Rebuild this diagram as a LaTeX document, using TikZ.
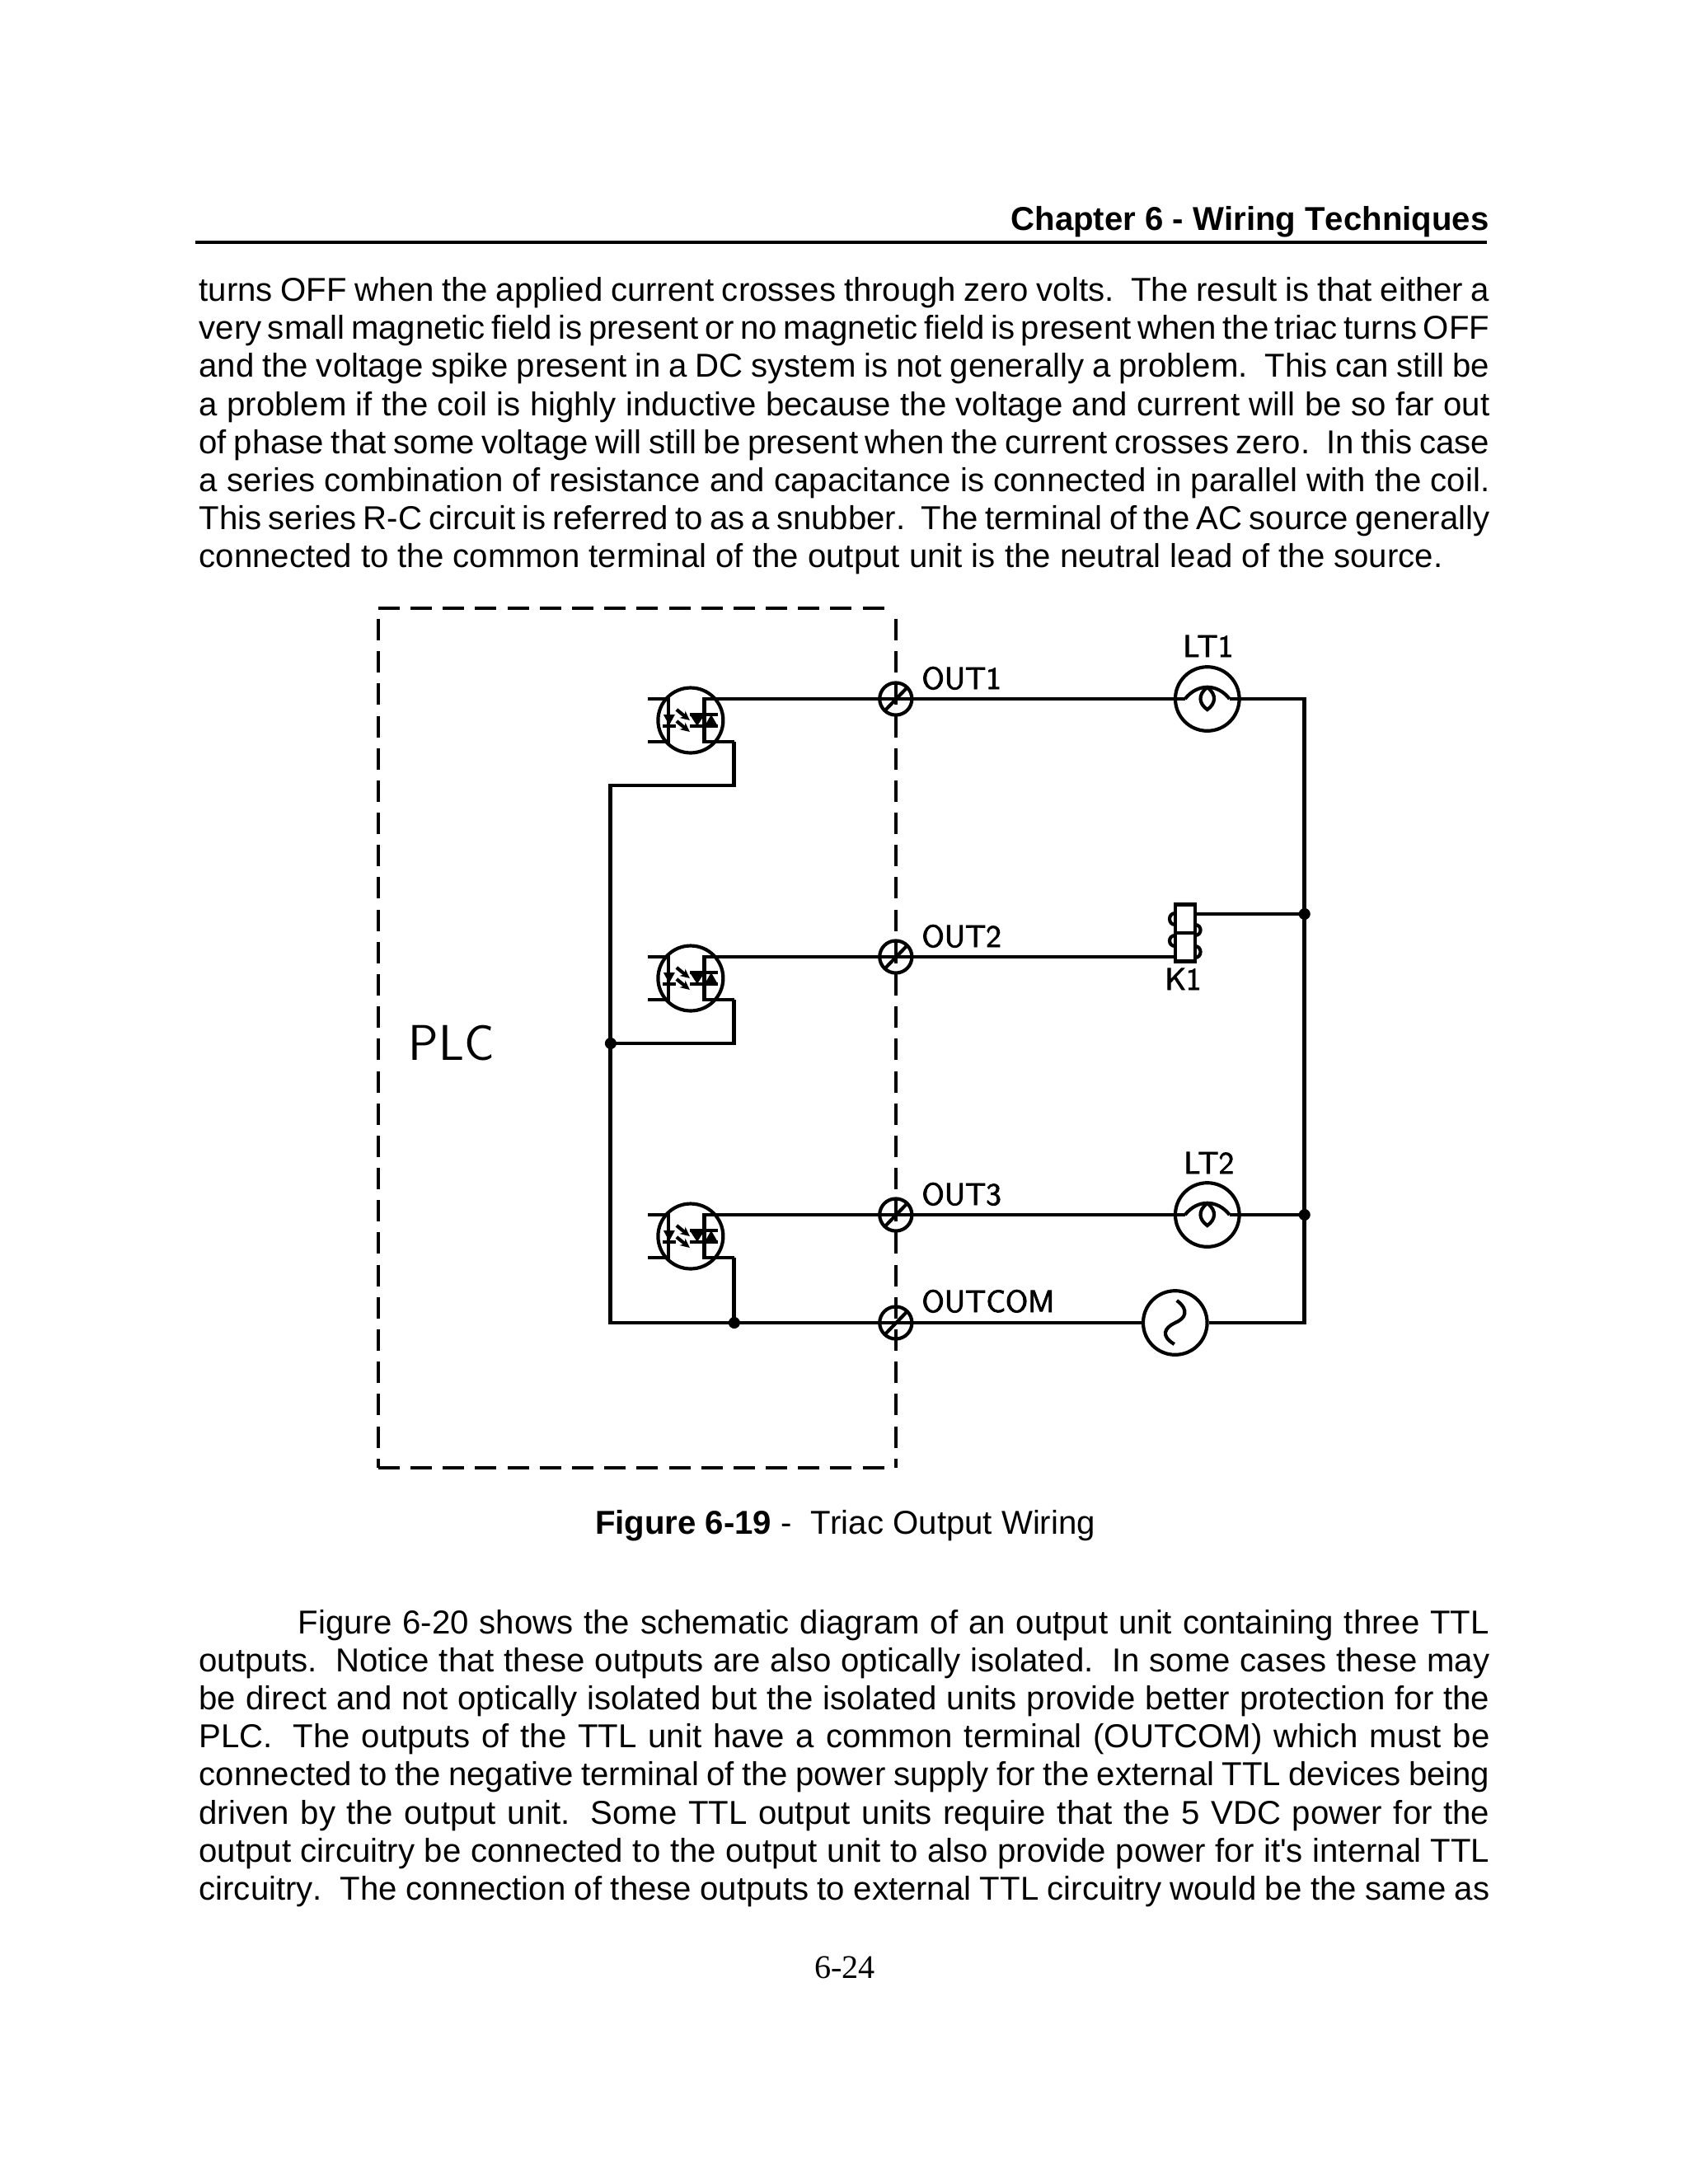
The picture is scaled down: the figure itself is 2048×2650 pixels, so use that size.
\documentclass[tikz,border=0pt]{standalone}
\usepackage{fontspec}
\setmainfont{Liberation Sans}[Ligatures={TeXOff,NoCommon},Kerning=Off]
\newfontfamily\pagefont{Liberation Serif}
\usetikzlibrary{arrows.meta,calc}
\newcommand{\dbl}{\hskip.556em plus 1em minus .2em\relax}
\newcommand{\fullline}[2][468pt]{\makebox[#1][s]{\spaceskip=.278em plus 1em minus .2em\relax #2}}
\newcommand{\cadlabel}[1]{\special{pdf:code q 2 Tr 0.25 w}#1\special{pdf:code Q}}
\frenchspacing
\tikzset{
	txt/.style={anchor=base west,inner sep=0pt,font=\fontsize{12}{14}\selectfont},
	cadtxt/.style={anchor=base west,inner sep=0pt,font=\sffamily\fontsize{11.3}{13}\selectfont},
	wire/.style={line width=1.45pt},
	thinwire/.style={line width=1.25pt},
	boxline/.style={line width=1.25pt,dash pattern=on 7.77pt off 3.94pt},
	optobody/.style={circle,draw,line width=1.25pt,inner sep=0pt,minimum size=23.6pt},
	lampbody/.style={circle,draw,line width=1.25pt,inner sep=0pt,minimum size=23.2pt},
	termbody/.style={circle,draw,line width=1.25pt,inner sep=0pt,minimum size=11.7pt},
	junction/.style={circle,fill,inner sep=0pt,minimum size=4.2pt}
}
\begin{document}
\begin{tikzpicture}[x=0.29883pt,y=-0.29887pt]
	\useasboundingbox (0,0) rectangle (2048,2650);

	% page text
	\node[txt,anchor=base east,font=\bfseries\fontsize{12}{14}\selectfont] (header) at (1807.5,279) {Chapter 6 - Wiring Techniques};
	\draw[line width=1.1pt] (237,294) -- (1804,294);
	\node[txt] (top1) at (241,365.5) {\fullline{turns OFF when the applied current crosses through zero volts.\dbl The result is that either a}};
	\node[txt] (top2) at (241,411.7) {\fullline{very small magnetic field is present or no magnetic field is present when the triac turns OFF}};
	\node[txt] (top3) at (241,457.9) {\fullline{and the voltage spike present in a DC system is not generally a problem.\dbl This can still be}};
	\node[txt] (top4) at (241,504.1) {\fullline{a problem if the coil is highly inductive because the voltage and current will be so far out}};
	\node[txt] (top5) at (241,550.3) {\fullline{of phase that some voltage will still be present when the current crosses zero.\dbl In this case}};
	\node[txt] (top6) at (241,596.5) {\fullline{a series combination of resistance and capacitance is connected in parallel with the coil.}};
	\node[txt] (top7) at (241,642.7) {\fullline{This series R-C circuit is referred to as a snubber.\dbl The terminal of the AC source generally}};
	\node[txt] (top8) at (241,688.9) {connected to the common terminal of the output unit is the neutral lead of the source.};

	\node[txt] (caption) at (721.5,1861) {\textbf{Figure 6-19} -\dbl Triac Output Wiring};

	\node[txt] (low1) at (361,1982) {\fullline[432pt]{Figure 6-20 shows the schematic diagram of an output unit containing three TTL}};
	\node[txt] (low2) at (241,2028.2) {\fullline{outputs.\dbl Notice that these outputs are also optically isolated.\dbl In some cases these may}};
	\node[txt] (low3) at (241,2074.4) {\fullline{be direct and not optically isolated but the isolated units provide better protection for the}};
	\node[txt] (low4) at (241,2120.6) {\fullline{PLC.\dbl The outputs of the TTL unit have a common terminal (OUTCOM) which must be}};
	\node[txt] (low5) at (241,2166.8) {\fullline{connected to the negative terminal of the power supply for the external TTL devices being}};
	\node[txt] (low6) at (241,2213) {\fullline{driven by the output unit.\dbl Some TTL output units require that the 5 VDC power for the}};
	\node[txt] (low7) at (241,2259.2) {\fullline{output circuitry be connected to the output unit to also provide power for it's internal TTL}};
	\node[txt] (low8) at (241,2305.4) {\fullline{circuitry.\dbl The connection of these outputs to external TTL circuitry would be the same as}};
	\node[txt,anchor=base,font=\pagefont\fontsize{12}{14}\selectfont] (pagenum) at (1025,2400) {6-24};

	% PLC box
	\draw[boxline] (459,738) -- (1078,738);
	\draw[boxline] (459,751) -- (459,1781);
	\draw[boxline] (459,1781) -- (1074,1781);
	\draw[boxline] (1087,751) -- (1087,1781);
	\node[cadtxt,font=\sffamily\fontsize{18.2}{20}\selectfont] (plc) at (495,1286) {PLC};

	% terminals
	\foreach \i/\y in {1/848,2/1161,3/1474,4/1605} {
		\node[termbody] (term\i) at (1087,\y) {};
		\draw[thinwire] ($(term\i.center)+(-14,15)$) -- ($(term\i.center)+(14,-14)$);
	}
	\node[cadtxt] (lbl1) at (1118,836) {\cadlabel{OUT1}};
	\node[cadtxt] (lbl2) at (1118,1149) {\cadlabel{OUT2}};
	\node[cadtxt] (lbl3) at (1118,1462) {\cadlabel{OUT3}};
	\node[cadtxt] (lblcom) at (1118,1592) {\cadlabel{OUTCOM}};

	% triac outputs
	\foreach \i/\y in {1/874,2/1187,3/1500} {
		\node[optobody] (opto\i) at (838,\y) {};
		\begin{scope}[shift={(opto\i.center)}]
			\coordinate (mt\i) at (17,-26);
			\coordinate (gt\i) at (17,26);
			\coordinate (ret\i) at (53,26);
			\draw[thinwire] (-52,-26) -- (-27,-26) -- (-27,26) -- (-52,26);
			\fill (-33,-7) -- (-19,-7) -- (-26,6) -- cycle;
			\draw[thinwire] (-34,7) -- (-18,7);
			\draw[thinwire,-{Stealth[length=3.4pt,width=3.2pt]}] (-17,-13) -- (-1,0);
			\draw[thinwire,-{Stealth[length=3.4pt,width=3.2pt]}] (-17,1) -- (-1,14);
			\fill (-1,-7) -- (17,-7) -- (8,7) -- cycle;
			\fill (17,7) -- (33,7) -- (25,-7) -- cycle;
			\draw[thinwire] (-1,-7) -- (33,-7);
			\draw[thinwire] (-1,7) -- (33,7);
		\end{scope}
		\draw[wire] (term\i.center) -- (mt\i) -- (gt\i) -- (ret\i);
	}

	% lamps
	\foreach \i/\y in {1/848,3/1474} {
		\node[lampbody] (lamp\i) at (1465,\y) {};
		\begin{scope}[shift={(lamp\i.center)}]
			\coordinate (fa\i) at (-27,0);
			\coordinate (fb\i) at (27,0);
			\draw[thinwire] (fa\i) .. controls (-12,-19) and (12,-19) .. (fb\i);
			\draw[thinwire] (0,-14) .. controls (-12,-5) and (-10,6) .. (0,13) .. controls (10,6) and (12,-5) .. (0,-14);
		\end{scope}
		\draw[wire] (term\i.center) -- (fa\i);
	}
	\node[cadtxt] (lt1) at (1435,797) {\cadlabel{LT1}};
	\node[cadtxt] (lt2) at (1436,1424) {\cadlabel{LT2}};

	% relay
	\node[draw,thinwire,inner sep=0pt,minimum width=7.2pt,minimum height=20.6pt] (k1) at (1438,1132) {};
	\draw[thinwire] (k1.west) -- (k1.east);
	\draw[thinwire] (1426,1108) .. controls (1417,1108) and (1417,1122) .. (1426,1122);
	\draw[thinwire] (1426,1135) .. controls (1417,1135) and (1417,1148) .. (1426,1148);
	\draw[thinwire] (1450,1122) .. controls (1459,1122) and (1459,1135) .. (1450,1135);
	\draw[thinwire] (1450,1148) .. controls (1459,1148) and (1459,1162) .. (1450,1162);
	\coordinate (k1a) at (1426,1161);
	\coordinate (k1b) at (1450,1109);
	\draw[wire] (term2.center) -- (k1a);
	\node[cadtxt] (k1lbl) at (1413,1201) {\cadlabel{K1}};

	% source
	\node[lampbody] (ac) at (1426,1605) {};
	\draw[thinwire] (1428,1578) .. controls (1444,1590) and (1438,1600) .. (1426,1605) .. controls (1413,1611) and (1408,1621) .. (1425,1631);

	% common and bus wires
	\coordinate (comtop) at (741,953);
	\coordinate (comtwo) at (741,1266);
	\coordinate (combot) at (741,1605);
	\coordinate (bustop) at (1583,848);
	\coordinate (busbot) at (1583,1605);
	\node[junction] (dot1) at (comtwo) {};
	\node[junction] (dot2) at (891,1605) {};
	\node[junction] (dot3) at (1583,1109) {};
	\node[junction] (dot4) at (1583,1474) {};
	\draw[wire] (ret1) -- (891,953) -- (comtop) -- (combot) -- (term4.center) -- (ac.west);
	\draw[wire] (ret2) -- (891,1266) -- (dot1.center);
	\draw[wire] (ret3) -- (dot2.center);
	\draw[wire] (fb1) -- (bustop) -- (busbot) -- (ac.east);
	\draw[wire] (k1b) -- (dot3.center);
	\draw[wire] (fb3) -- (dot4.center);
\end{tikzpicture}
\end{document}
